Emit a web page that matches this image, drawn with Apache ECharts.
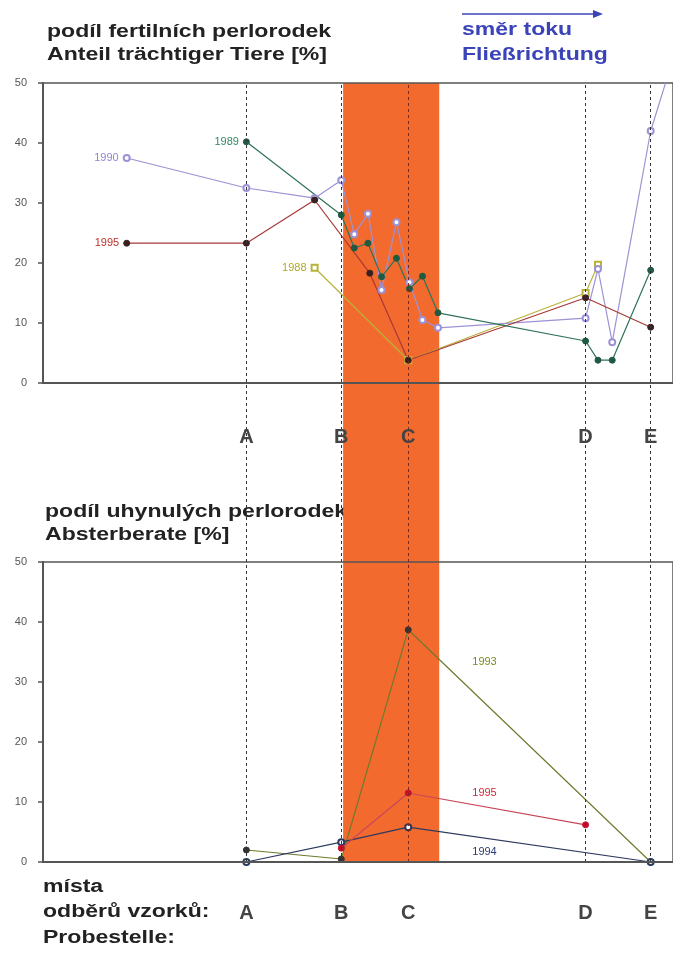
<!DOCTYPE html>
<html>
<head>
<meta charset="utf-8">
<script src="https://cdn.jsdelivr.net/npm/echarts@6/dist/echarts.min.js"></script>
<style>
  html, body { margin: 0; padding: 0; background: #fff; }
  #chart { width: 673px; height: 956px; }
</style>
</head>
<body>
<div id="chart"></div>
<script>
// position along the stream, 0 = left axis (arbitrary units)
const siteNames = ['A', 'B', 'C', 'D', 'E']
const sitePos = [32.8, 48.1, 58.9, 87.5, 98.0]
const affectedStretch = [48.4, 63.9]

// podíl fertilních perlorodek / Anteil trächtiger Tiere [%]
const fert1988 = [[43.8, 19.2], [58.9, 3.8], [87.5, 15.0], [89.5, 19.7]]
const fert1989 = [[32.8, 40.2], [48.1, 28.0], [50.2, 22.5], [52.4, 23.3], [54.6, 17.7], [57.0, 20.8],
  [59.1, 15.7], [61.2, 17.8], [63.7, 11.7], [87.5, 7.0], [89.5, 3.8], [91.8, 3.8], [98.0, 18.8]]
const fert1990 = [[13.5, 37.5], [32.8, 32.5], [43.8, 30.8], [48.1, 33.8], [50.2, 24.8], [52.4, 28.2],
  [54.6, 15.5], [57.0, 26.8], [59.1, 16.8], [61.2, 10.5], [63.7, 9.2], [87.5, 10.8], [89.5, 19.0],
  [91.8, 6.8], [98.0, 42.0], [101.0, 52.0]]
const fert1995 = [[13.5, 23.3], [32.8, 23.3], [43.8, 30.5], [52.7, 18.3], [58.9, 3.8], [87.5, 14.2], [98.0, 9.3]]

// podíl uhynulých perlorodek / Absterberate [%]
const dead1993 = [[32.8, 2.0], [48.1, 0.5], [58.9, 38.7], [98.0, 0.0]]
const dead1994 = [[32.8, 0.0], [48.1, 3.3], [58.9, 5.8], [98.0, 0.0]]
const dead1995 = [[48.1, 2.3], [58.9, 11.5], [87.5, 6.2]]
// where the year names sit in the lower chart
const deadLabelPos = { 1993: [71.2, 33.3], 1994: [71.2, 1.7], 1995: [71.2, 11.5] }

const FONT = '"Liberation Sans", Arial, sans-serif'
const AXIS = '#555'
const X_MAX = 101.6
// the scanned lettering is wide, so stretch the headings a bit
const WIDE = 1.28

function yearLine(name, data, grid, c, first) {
  return {
    name: name,
    type: 'line',
    xAxisIndex: grid,
    yAxisIndex: grid,
    z: 3,
    symbol: c.symbol || 'circle',
    symbolSize: c.size || 6,
    lineStyle: { color: c.line, width: 1.2 },
    itemStyle: { color: c.marker, borderColor: c.marker, borderWidth: 1 },
    data: data.map((d, i) => {
      const item = { value: d }
      if (first && i === 0) {
        item.label = { show: true, position: 'left', distance: 4, formatter: name, color: c.label, fontSize: 11, fontFamily: FONT }
      }
      return item
    }),
    markPoint: deadLabelPos[name] && grid === 1 ? {
      symbol: 'circle',
      symbolSize: 0,
      data: [{ coord: deadLabelPos[name] }],
      label: { show: true, formatter: name, color: c.label, fontSize: 11, fontFamily: FONT }
    } : undefined
  }
}

function valueX(grid, labelMargin) {
  return {
    type: 'value',
    gridIndex: grid,
    min: 0,
    max: X_MAX,
    z: 5,
    axisLine: { show: true, lineStyle: { color: AXIS, width: 2 } },
    axisTick: { show: false },
    splitLine: { show: false },
    axisLabel: {
      customValues: sitePos,
      margin: labelMargin,
      formatter: v => siteNames[sitePos.indexOf(v)] || '',
      color: '#444',
      fontSize: 20,
      fontWeight: 'bold',
      fontFamily: FONT
    }
  }
}

function valueY(grid) {
  return {
    type: 'value',
    gridIndex: grid,
    min: 0,
    max: 50,
    interval: 10,
    z: 5,
    axisLine: { show: true, lineStyle: { color: AXIS, width: 2 } },
    axisTick: { show: true, length: 5, lineStyle: { color: AXIS, width: 1.5 } },
    splitLine: { show: false },
    axisLabel: { color: '#555', fontSize: 11, margin: 16, fontFamily: FONT }
  }
}

function heading(x, y, text, color, lh) {
  return {
    type: 'text', x: x, y: y, scaleX: WIDE,
    style: { text: text, font: 'bold 18px ' + FONT, fill: color, lineHeight: lh }
  }
}

const chart = echarts.init(document.getElementById('chart'))

const option = {
  animation: false,
  backgroundColor: '#fff',
  grid: [
    { left: 43, right: -8, top: 83, height: 300, show: true, borderColor: AXIS, borderWidth: 1.5, backgroundColor: 'transparent', z: 2 },
    { left: 43, right: -8, top: 562, height: 300, show: true, borderColor: AXIS, borderWidth: 1.5, backgroundColor: 'transparent', z: 2 },
    { left: 43, right: -8, top: 83, height: 779 }
  ],
  xAxis: [
    valueX(0, 44),
    valueX(1, 41),
    { type: 'value', gridIndex: 2, min: 0, max: X_MAX, show: false }
  ],
  yAxis: [
    valueY(0),
    valueY(1),
    { type: 'value', gridIndex: 2, min: 0, max: 1, show: false }
  ],
  graphic: [
    heading(47, 20.5, 'podíl fertilních perlorodek\nAnteil trächtiger Tiere [%]', '#222', 23),
    heading(462, 17.5, 'směr toku\nFließrichtung', '#3a44b8', 25),
    { type: 'line', shape: { x1: 462, y1: 14, x2: 596, y2: 14 }, style: { stroke: '#3a44b8', lineWidth: 1.5 } },
    { type: 'polygon', shape: { points: [[593, 10], [603, 14], [593, 18]] }, style: { fill: '#3a44b8' } },
    heading(45, 500.5, 'podíl uhynulých perlorodek\nAbsterberate [%]', '#222', 23),
    heading(43, 874, 'místa\nodběrů vzorků:\nProbestelle:', '#222', 25.5)
  ],
  series: [
    {
      type: 'line',
      xAxisIndex: 2,
      yAxisIndex: 2,
      z: 1,
      silent: true,
      data: [],
      markArea: {
        silent: true,
        itemStyle: { color: '#f26a2e' },
        data: [[{ xAxis: affectedStretch[0] }, { xAxis: affectedStretch[1] }]]
      },
      markLine: {
        silent: true,
        symbol: ['none', 'none'],
        label: { show: false },
        data: sitePos.map((v, i) => ({
          xAxis: v,
          lineStyle: { color: i === 2 ? '#7a2a1a' : '#333', type: [3, 3], width: 1 }
        }))
      }
    },
    yearLine('1988', fert1988, 0, { line: '#b8b23a', marker: '#b8b23a', label: '#b0aa20', symbol: 'emptyRect', size: 6 }, true),
    yearLine('1990', fert1990, 0, { line: '#9c92d6', marker: '#9c92d6', label: '#8f86d0', symbol: 'emptyCircle', size: 6 }, true),
    yearLine('1995', fert1995, 0, { line: '#a83838', marker: '#3a2020', label: '#c0302a' }, true),
    yearLine('1989', fert1989, 0, { line: '#2f7258', marker: '#1f5a42', label: '#2f8a60' }, true),
    yearLine('1993', dead1993, 1, { line: '#6e7a2c', marker: '#333', label: '#7a8a20' }, false),
    yearLine('1994', dead1994, 1, { line: '#2d3a60', marker: '#2d3a60', label: '#2d3a70', symbol: 'emptyCircle', size: 6 }, false),
    yearLine('1995', dead1995, 1, { line: '#c8485a', marker: '#c8102e', label: '#d02a3a' }, false)
  ]
}

chart.setOption(option)
</script>
</body>
</html>
